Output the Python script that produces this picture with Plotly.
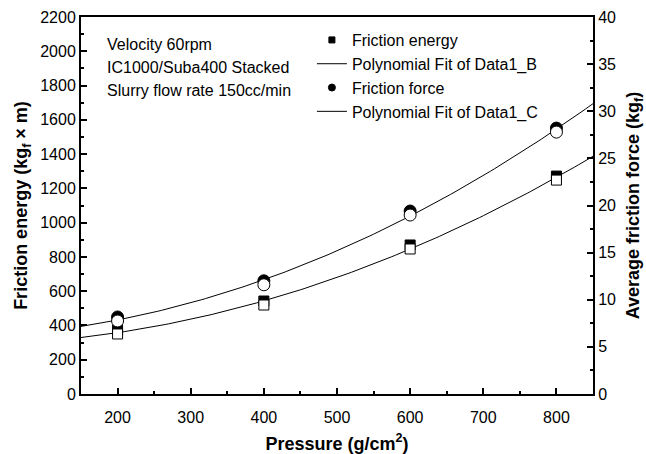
import numpy as np
import plotly.graph_objects as go

# Measured data
pressure = [200, 400, 600, 800]                 # g/cm^2
friction_energy = [362, 531, 858, 1260]         # kg_f x m (left axis)
friction_force = [7.96, 11.8, 19.2, 28.0]       # kg_f (right axis)

x_ticks = [200, 300, 400, 500, 600, 700, 800]

# Second-order polynomial fits over the full x range
xfit = np.linspace(150, 850, 141)
fit_b = np.polyval(np.polyfit(pressure, friction_energy, 2), xfit)
fit_c = np.polyval(np.polyfit(pressure, friction_force, 2), xfit)

W, H = 646, 454
L, R, T, B = 81, 53, 17, 60
plot_h = H - T - B
E_MAX, F_MAX = 2200, 40
# half-filled look: filled marker nudged up, open marker nudged down
shift_px = 2.0
se = E_MAX / plot_h * shift_px
sf = F_MAX / plot_h * shift_px

font = "Liberation Sans, Arial, sans-serif"
fig = go.Figure()

# legend entries (small symbols)
fig.add_trace(go.Scatter(x=[None], y=[None], mode="markers", name="Friction energy",
                         legendrank=1,
                         marker=dict(symbol="square", size=6, color="black",
                                     line=dict(color="black", width=1))))
fig.add_trace(go.Scatter(x=xfit, y=fit_b, mode="lines", name="Polynomial Fit of Data1_B",
                         legendrank=2, line=dict(color="black", width=1)))
fig.add_trace(go.Scatter(x=[None], y=[None], mode="markers", name="Friction force",
                         legendrank=3,
                         marker=dict(symbol="circle", size=7, color="black",
                                     line=dict(color="black", width=1))))
fig.add_trace(go.Scatter(x=xfit, y=fit_c, mode="lines", name="Polynomial Fit of Data1_C",
                         yaxis="y2", legendrank=4, line=dict(color="black", width=1)))

# data markers: filled layer then open layer on top
fig.add_trace(go.Scatter(x=pressure, y=friction_energy, mode="markers", showlegend=False,
                         yaxis="y3",
                         marker=dict(symbol="square", size=10, color="black",
                                     line=dict(color="black", width=1))))
fig.add_trace(go.Scatter(x=pressure, y=friction_force, mode="markers", showlegend=False,
                         yaxis="y5",
                         marker=dict(symbol="circle", size=12, color="black",
                                     line=dict(color="black", width=1))))
fig.add_trace(go.Scatter(x=pressure, y=friction_energy, mode="markers", showlegend=False,
                         yaxis="y4",
                         marker=dict(symbol="square", size=10, color="white",
                                     line=dict(color="black", width=1))))
fig.add_trace(go.Scatter(x=pressure, y=friction_force, mode="markers", showlegend=False,
                         yaxis="y6",
                         marker=dict(symbol="circle", size=12, color="white",
                                     line=dict(color="black", width=1))))

hidden = dict(overlaying="y", visible=False, fixedrange=True, automargin=False)

fig.update_layout(
    width=W, height=H,
    margin=dict(l=L, r=R, t=T, b=B, autoexpand=False),
    paper_bgcolor="white", plot_bgcolor="white",
    font=dict(family=font, size=16, color="black"),
    showlegend=True,
    legend=dict(x=0.451, y=0.984, xanchor="left", yanchor="top",
                bgcolor="rgba(0,0,0,0)", font=dict(size=16),
                tracegroupgap=0, itemwidth=30),
    xaxis=dict(range=[150, 850], tickvals=x_ticks, showgrid=False, zeroline=False,
               automargin=False,
               showline=True, linecolor="black", linewidth=2, mirror=True,
               ticks="inside", ticklen=6, tickwidth=1.5, tickcolor="black",
               minor=dict(ticks="inside", dtick=50, tick0=0, ticklen=3, tickwidth=1.5,
                          tickcolor="black"),
               ticklabelstandoff=8,
               title=dict(text="<b>Pressure (g/cm<sup>2</sup>)</b>", font=dict(size=18),
                          standoff=15)),
    yaxis=dict(range=[0, E_MAX], dtick=200, showgrid=False, zeroline=False,
               automargin=False,
               showline=True, linecolor="black", linewidth=2,
               ticks="inside", ticklen=6, tickwidth=1.5, tickcolor="black",
               minor=dict(ticks="inside", dtick=100, ticklen=3, tickwidth=1.5,
                          tickcolor="black"),
               title=dict(text="<b>Friction energy (kg<sub>f</sub> \u00d7 m)</b>",
                          font=dict(size=18), standoff=8)),
    yaxis2=dict(range=[0, F_MAX], dtick=5, overlaying="y", side="right",
                showgrid=False, zeroline=False, automargin=False,
                showline=True, linecolor="black", linewidth=2,
                ticks="inside", ticklen=6, tickwidth=1.5, tickcolor="black",
                minor=dict(ticks="inside", dtick=2.5, ticklen=3, tickwidth=1.5,
                           tickcolor="black"),
                title=dict(text="<b>Average friction force (kg<sub>f</sub>)</b>",
                           font=dict(size=18), standoff=15)),
    yaxis3=dict(range=[-se, E_MAX - se], **hidden),
    yaxis4=dict(range=[se, E_MAX + se], **hidden),
    yaxis5=dict(range=[-sf, F_MAX - sf], **hidden),
    yaxis6=dict(range=[sf, F_MAX + sf], **hidden),
)

notes = ["Velocity 60rpm", "IC1000/Suba400 Stacked", "Slurry flow rate 150cc/min"]
for i, txt in enumerate(notes):
    fig.add_annotation(text=txt, xref="paper", yref="paper", x=0.046, y=0.928 - i * 0.061,
                       xanchor="left", yanchor="middle", showarrow=False,
                       font=dict(size=16, family=font))

fig.write_html("out.html")
